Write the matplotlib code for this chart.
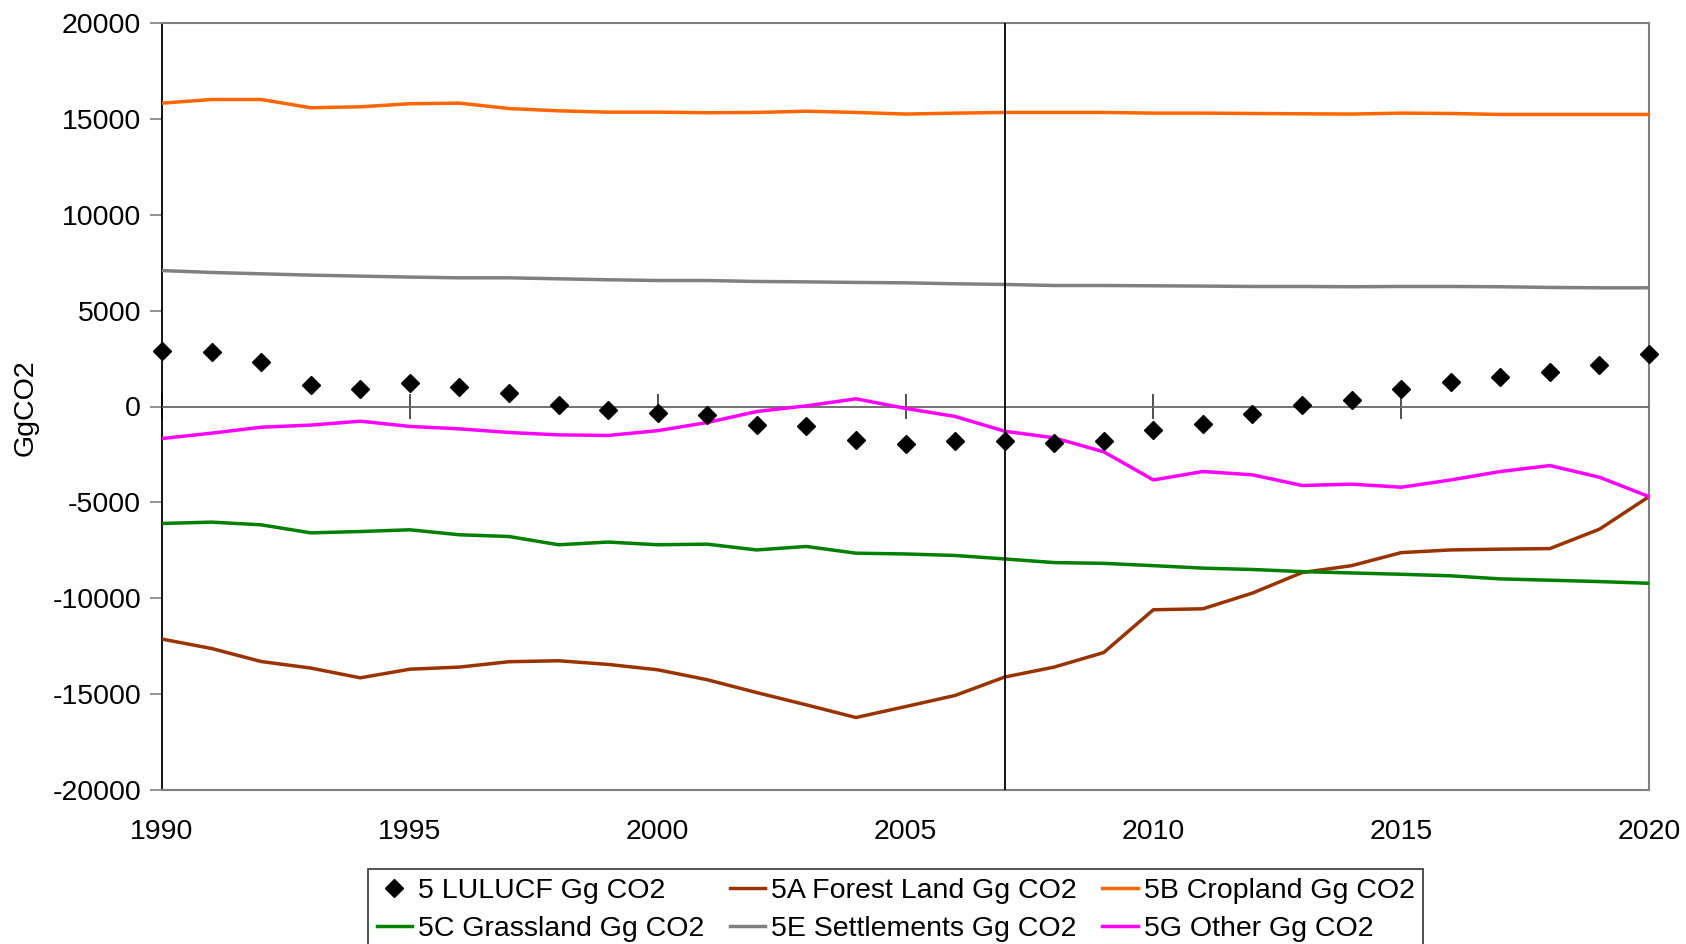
import matplotlib
matplotlib.use("Agg")
import matplotlib.pyplot as plt
import numpy as np

plt.rcParams['font.family'] = ['Liberation Sans', 'DejaVu Sans']
plt.rcParams['axes.unicode_minus'] = False

years = np.arange(1990, 2021)

lulucf = [2920, 2840, 2300, 1130, 920, 1250, 1010, 710, 100, -190,
          -340, -450, -980, -1010, -1740, -1930, -1790, -1810, -1880, -1790,
          -1220, -890, -380, 70, 365, 920, 1290, 1530, 1810, 2140, 2750]
forest = [-12130, -12620, -13300, -13640, -14150, -13700, -13590, -13310, -13260, -13450,
          -13730, -14250, -14920, -15560, -16220, -15650, -15070, -14110, -13590, -12830,
          -10600, -10550, -9730, -8660, -8300, -7620, -7480, -7440, -7410, -6400, -4700]
cropland = [15820, 16010, 16010, 15580, 15630, 15790, 15820, 15540, 15420, 15350,
            15350, 15320, 15335, 15400, 15335, 15250, 15300, 15335, 15335, 15335,
            15300, 15300, 15280, 15265, 15250, 15300, 15280, 15230, 15230, 15230, 15230]
grassland = [-6100, -6030, -6170, -6590, -6520, -6430, -6690, -6780, -7210, -7070,
             -7210, -7180, -7480, -7300, -7650, -7690, -7770, -7950, -8140, -8180,
             -8300, -8430, -8500, -8610, -8680, -8750, -8830, -8990, -9060, -9130, -9220]
settlements = [7090, 6990, 6920, 6850, 6800, 6750, 6710, 6710, 6660, 6610,
               6570, 6570, 6520, 6500, 6470, 6450, 6400, 6365, 6310, 6310,
               6295, 6280, 6260, 6260, 6245, 6260, 6260, 6245, 6210, 6190, 6190]
other = [-1670, -1390, -1080, -970, -765, -1040, -1165, -1356, -1480, -1510,
         -1260, -835, -260, 35, 400, -100, -520, -1290, -1635, -2365,
         -3830, -3390, -3565, -4120, -4050, -4210, -3830, -3390, -3080, -3690, -4700]

marker_year = 2007
labels = ["5 LULUCF Gg CO2", "5A Forest Land Gg CO2", "5B Cropland Gg CO2",
          "5C Grassland Gg CO2", "5E Settlements Gg CO2", "5G Other Gg CO2"]

fig = plt.figure(figsize=(16.86, 9.44), dpi=100)
ax = fig.add_axes([162 / 1686, 1 - 790 / 944, (1649 - 162) / 1686, (790 - 23) / 944])

fs = 20.5
lw = 2.5
h0, = ax.plot(years, lulucf, linestyle='none', marker='D', ms=9, color='black',
              zorder=6, clip_on=False)
h1, = ax.plot(years, forest, color='#993300', lw=lw, zorder=4)
h2, = ax.plot(years, cropland, color='#FF6600', lw=lw, zorder=4)
h3, = ax.plot(years, grassland, color='#008000', lw=lw, zorder=4)
h4, = ax.plot(years, settlements, color='#808080', lw=lw, zorder=4)
h5, = ax.plot(years, other, color='#FF00FF', lw=lw, zorder=4)

ax.axvline(marker_year, color='black', lw=1.3, zorder=5)
ax.axhline(0, color='#666666', lw=1.3, zorder=3)

ax.set_xlim(1990, 2020)
ax.set_ylim(-20000, 20000)
ax.set_yticks(np.arange(-20000, 20001, 5000))
ax.set_xticks(np.arange(1990, 2021, 5))
ax.tick_params(axis='y', direction='out', length=9, width=1.2, color='#808080',
               labelsize=fs, pad=6)
ax.tick_params(axis='x', length=0, labelsize=fs, pad=21)

# zero axis with cross tick marks
sec = ax.secondary_xaxis(0.5)
sec.set_xticks(np.arange(1990, 2021, 5))
sec.tick_params(axis='x', direction='inout', length=18, width=1.2, color='#333333',
                labelbottom=False, labeltop=False)
sec.spines['bottom'].set_visible(False)
sec.spines['top'].set_visible(False)

for side in ['top', 'right', 'bottom']:
    ax.spines[side].set_color('#808080')
    ax.spines[side].set_linewidth(1.5)
ax.spines['left'].set_color('black')
ax.spines['left'].set_linewidth(1.3)

fig.text(26 / 1686, 1 - 408 / 944, "GgCO2", rotation=90, fontsize=fs,
         ha='center', va='center')

# legend fills column by column, so order the entries to read row by row
handles = [h0, h3, h1, h4, h2, h5]
leg_labels = [labels[0], labels[3], labels[1], labels[4], labels[2], labels[5]]
leg = fig.legend(handles, leg_labels, ncol=3, loc='upper left',
                 bbox_to_anchor=(368 / 1686, 1 - 869 / 944), fontsize=fs,
                 frameon=True, fancybox=False, framealpha=1, edgecolor='#333333',
                 handlelength=1.25, handletextpad=0.2, columnspacing=0.9,
                 labelspacing=0.42, borderpad=0.3, borderaxespad=0)
leg.get_frame().set_linewidth(1.2)

fig.savefig("out.png", dpi=100)
